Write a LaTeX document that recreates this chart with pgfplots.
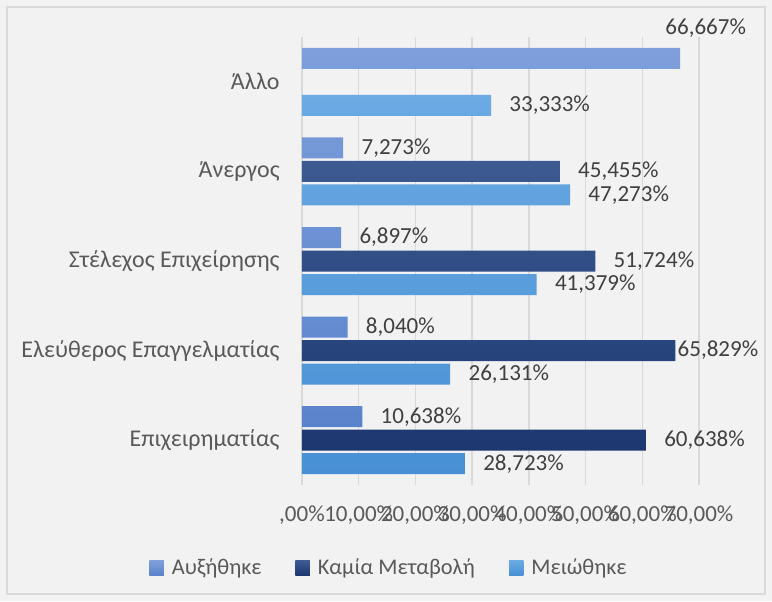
\documentclass[border=0pt]{standalone}
\usepackage{fontspec}
\setmainfont{Carlito}
\usepackage{pgfplots}
\pgfplotsset{compat=1.18}
\definecolor{bgc}{HTML}{F2F2F2}
\definecolor{bordc}{HTML}{D9D9D9}
\definecolor{gridc}{HTML}{D9D9D9}
\definecolor{txtc}{HTML}{595959}
\definecolor{lblc}{HTML}{404040}
\definecolor{aT}{HTML}{7E9FDB}
\definecolor{aB}{HTML}{5B83CC}
\definecolor{kT}{HTML}{3D5A92}
\definecolor{kB}{HTML}{1D3870}
\definecolor{mT}{HTML}{6BAAE3}
\definecolor{mB}{HTML}{4890D4}

\pgfplotstableread{
c v dx dy
0 10.638 9 0
1 8.040 9 0
2 6.897 9 0
3 7.273 9 0
4 66.667 -7.5 15
}\tblA
\pgfplotstableread{
c v dx dy
0 60.638 9 0
1 65.829 1 0
2 51.724 9 0
3 45.455 9 0
}\tblK
\pgfplotstableread{
c v dx dy
0 28.723 9 0
1 26.131 9 0
2 41.379 9 0
3 47.273 9 0
4 33.333 9 0
}\tblM

\begin{document}
\begin{tikzpicture}[x=1pt,y=1pt]
\fill[bgc] (-151,-58) rectangle (235,242.5);
\draw[bordc, line width=0.75pt] (-147.5,-54.5) rectangle (231.5,239);
\begin{axis}[
  at={(0,0)}, anchor=south west,
  scale only axis, width=198.5pt, height=224pt,
  /pgf/number format/assume math mode=true,
  xbar, bar width=10.5pt,
  xmin=0, xmax=70,
  ymin=-0.5, ymax=4.5,
  xtick={0,10,20,30,40,50,60,70},
  xticklabels={{,00\%},{10,00\%},{20,00\%},{30,00\%},{40,00\%},{50,00\%},{60,00\%},{70,00\%}},
  ytick={0,1,2,3,4},
  yticklabels={Επιχειρηματίας,Ελεύθερος Επαγγελματίας,Στέλεχος Επιχείρησης,Άνεργος,Άλλο},
  major tick length=0pt,
  axis line style={draw=none},
  xmajorgrids, major grid style={gridc, line width=0.75pt},
  ymajorgrids=false,
  tick label style={font=\fontsize{11.5}{13}\selectfont, text=txtc},
  yticklabel style={font=\fontsize{12}{14}\selectfont},
  xticklabel style={anchor=center, inner sep=0pt, yshift=-15pt},
  yticklabel style={anchor=east, inner sep=0pt, xshift=-11pt},
  nodes near coords={\pgfmathprintnumber[fixed,fixed zerofill,precision=3,use comma,assume math mode=true]{\pgfplotspointmeta}\%},
  point meta=x,
  visualization depends on={\thisrow{dx}\as\dx},
  visualization depends on={\thisrow{dy}\as\dy},
  every node near coord/.append style={anchor=west, inner sep=0pt, xshift=\dx pt, yshift=\dy pt, font=\fontsize{11.5}{13}\selectfont, text=lblc},
  legend style={at={(0.2217,-0.185)}, anchor=center, draw=none, fill=none,
    font=\fontsize{11.2}{13}\selectfont, text=txtc, legend columns=3,
    /tikz/every even column/.append style={column sep=15pt},
    /tikz/every odd column/.append style={column sep=2pt}},
  legend image code/.code={\path[#1] (0pt,-3.6pt) rectangle (7.2pt,3.6pt);},
]
\addplot[draw=none, top color=aT, bottom color=aB, bar shift=11.75pt] table[x=v,y=c] {\tblA};
\addlegendentry{Αυξήθηκε}
\addplot[draw=none, top color=kT, bottom color=kB, bar shift=0pt] table[x=v,y=c] {\tblK};
\addlegendentry{Καμία Μεταβολή}
\addplot[draw=none, top color=mT, bottom color=mB, bar shift=-11.75pt] table[x=v,y=c] {\tblM};
\addlegendentry{Μειώθηκε}
\end{axis}
\end{tikzpicture}
\end{document}
